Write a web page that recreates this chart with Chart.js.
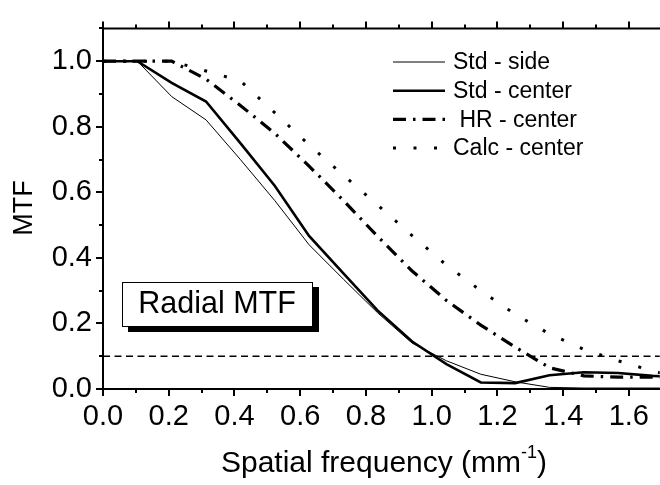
<!DOCTYPE html>
<html>
<head>
<meta charset="utf-8">
<script src="https://cdn.jsdelivr.net/npm/chart.js@4.4.0/dist/chart.umd.min.js"></script>
<style>
  body { margin: 0; background: #fff; }
  #wrap { width: 660px; height: 485px; }
</style>
</head>
<body>
<div id="wrap"><canvas id="myChart" width="660" height="485"></canvas></div>
<script>
// frecuencia espacial (mm^-1)
var freq       = [0, 0.1045, 0.209, 0.3135, 0.418, 0.5225, 0.627, 0.7315, 0.836, 0.9405, 1.045, 1.1495, 1.254, 1.3585, 1.463, 1.5675, 1.672, 1.7765];
var stdSide    = [1.0, 1.0, 0.892, 0.821, 0.70, 0.575, 0.44, 0.335, 0.232, 0.14, 0.086, 0.045, 0.022, 0.005, 0.003, 0.003, 0.003, 0.003];
var stdCenter  = [1.0, 1.0, 0.934, 0.877, 0.75, 0.62, 0.467, 0.353, 0.239, 0.145, 0.076, 0.02, 0.018, 0.042, 0.051, 0.049, 0.04, 0.035];
var hrCenter   = [1.0, 1.0, 1.0, 0.945, 0.865, 0.78, 0.68, 0.575, 0.465, 0.36, 0.27, 0.195, 0.128, 0.065, 0.04, 0.036, 0.036, 0.036];
var calcCenter = [1.0, 1.0, 1.0, 0.97, 0.94, 0.843, 0.745, 0.652, 0.561, 0.468, 0.378, 0.30, 0.228, 0.168, 0.121, 0.086, 0.055, 0.03];
var etiquetas  = ['Std - side', 'Std - center', ' HR - center', 'Calc - center'];
// linea de referencia MTF = 0.1
var refFreq  = [0, 1.8];
var refLevel = [0.1, 0.1];
var xTicks = [0, 0.2, 0.4, 0.6, 0.8, 1.0, 1.2, 1.4, 1.6];
var yTicks = [0, 0.2, 0.4, 0.6, 0.8, 1.0];

var FONT = 'Liberation Sans, Arial, sans-serif';

function puntos(xs, ys) {
  return xs.map(function (f, i) { return { x: f, y: ys[i] }; });
}

// ejes, marcas, titulos, leyenda y recuadro
var dibujoExtra = {
  id: 'dibujoExtra',
  afterDraw: function (chart) {
    var ctx = chart.ctx, a = chart.chartArea;
    var sx = chart.scales.x, sy = chart.scales.y;
    ctx.save();
    ctx.strokeStyle = '#000';
    ctx.fillStyle = '#000';
    ctx.lineWidth = 2;
    ctx.setLineDash([]);
    ctx.beginPath();
    ctx.moveTo(a.left, a.top); ctx.lineTo(a.right + 2, a.top);
    ctx.moveTo(a.left, a.bottom); ctx.lineTo(a.right + 2, a.bottom);
    ctx.moveTo(a.left, a.top - 1); ctx.lineTo(a.left, a.bottom + 1);
    for (var i = 0; i <= 17; i++) {
      var px = Math.round(sx.getPixelForValue(i / 10));
      var len = (i % 2 === 0) ? 7 : 4;
      ctx.moveTo(px, a.bottom); ctx.lineTo(px, a.bottom + len);
      ctx.moveTo(px, a.top); ctx.lineTo(px, a.top - len);
    }
    for (var j = 0; j <= 11; j++) {
      var py = Math.round(sy.getPixelForValue(j / 10));
      var l2 = (j % 2 === 0) ? 7 : 4;
      ctx.moveTo(a.left, py); ctx.lineTo(a.left - l2, py);
    }
    ctx.stroke();

    // titulo eje Y
    ctx.save();
    ctx.font = '27px ' + FONT;
    ctx.textAlign = 'center';
    ctx.textBaseline = 'alphabetic';
    ctx.translate(32, 208);
    ctx.rotate(-Math.PI / 2);
    ctx.fillText('MTF', 0, 0);
    ctx.restore();

    // titulo eje X con superindice
    ctx.font = '30px ' + FONT;
    ctx.textBaseline = 'alphabetic';
    ctx.textAlign = 'left';
    var t1 = 'Spatial frequency (mm', t2 = '-1', t3 = ')';
    var w1 = ctx.measureText(t1).width;
    ctx.font = '18px ' + FONT;
    var w2 = ctx.measureText(t2).width;
    ctx.font = '30px ' + FONT;
    var w3 = ctx.measureText(t3).width;
    var x0 = 384 - (w1 + w2 + w3) / 2;
    var yb = 472;
    ctx.fillText(t1, x0, yb);
    ctx.font = '18px ' + FONT;
    ctx.fillText(t2, x0 + w1, yb - 14);
    ctx.font = '30px ' + FONT;
    ctx.fillText(t3, x0 + w1 + w2, yb);

    // recuadro "Radial MTF"
    ctx.fillStyle = '#000';
    ctx.fillRect(128, 287, 191, 45);
    ctx.fillStyle = '#fff';
    ctx.fillRect(122, 282, 191, 45);
    ctx.lineWidth = 1;
    ctx.strokeRect(122.5, 282.5, 190, 44);
    ctx.fillStyle = '#000';
    ctx.font = '30.5px ' + FONT;
    ctx.textAlign = 'center';
    ctx.textBaseline = 'middle';
    ctx.fillText('Radial MTF', 217, 305);

    // leyenda
    ctx.font = '23px ' + FONT;
    ctx.textAlign = 'left';
    for (var k = 0; k < 4; k++) {
      var ds = chart.data.datasets[k];
      var yy = 62 + k * 28.7;
      ctx.setLineDash(ds.borderDash || []);
      ctx.lineWidth = ds.borderWidth;
      ctx.beginPath();
      ctx.moveTo(393, yy); ctx.lineTo(445, yy);
      ctx.stroke();
      ctx.setLineDash([]);
      ctx.fillText(ds.label, 453, yy + 1);
    }
    ctx.restore();
  }
};

var ctx = document.getElementById('myChart').getContext('2d');
var myChart = new Chart(ctx, {
  type: 'line',
  data: {
    datasets: [
      { label: etiquetas[0], data: puntos(freq, stdSide), borderColor: '#000', borderWidth: 1, borderDash: [] },
      { label: etiquetas[1], data: puntos(freq, stdCenter), borderColor: '#000', borderWidth: 2.6, borderDash: [] },
      { label: etiquetas[2], data: puntos(freq, hrCenter), borderColor: '#000', borderWidth: 3.2, borderDash: [13, 7, 2.5, 7] },
      { label: etiquetas[3], data: puntos(freq, calcCenter), borderColor: '#000', borderWidth: 3, borderDash: [3, 17.5] },
      { label: 'ref', data: puntos(refFreq, refLevel), borderColor: '#000', borderWidth: 1.4, borderDash: [7, 4.5] }
    ]
  },
  options: {
    responsive: false,
    animation: false,
    layout: { padding: { top: 19, right: 0, left: 0, bottom: 0 } },
    elements: {
      point: { radius: 0 },
      line: { tension: 0, fill: false }
    },
    plugins: {
      legend: { display: false },
      tooltip: { enabled: false }
    },
    scales: {
      x: {
        type: 'linear',
        min: 0,
        max: 1.694,
        grid: { display: false, drawTicks: false },
        border: { display: false },
        afterBuildTicks: function (s) { s.ticks = xTicks.map(function (v) { return { value: v }; }); },
        afterFit: function (s) { s.height = 96; },
        ticks: {
          color: '#000',
          padding: 11,
          font: { family: FONT, size: 29 },
          callback: function (v) { return Number(v).toFixed(1); }
        }
      },
      y: {
        type: 'linear',
        min: 0,
        max: 1.1,
        grid: { display: false, drawTicks: false },
        border: { display: false },
        afterBuildTicks: function (s) { s.ticks = yTicks.map(function (v) { return { value: v }; }); },
        afterFit: function (s) { s.width = 103; },
        ticks: {
          color: '#000',
          padding: 11,
          font: { family: FONT, size: 29 },
          callback: function (v) { return Number(v).toFixed(1); }
        }
      }
    }
  },
  plugins: [dibujoExtra]
});
</script>
</body>
</html>
